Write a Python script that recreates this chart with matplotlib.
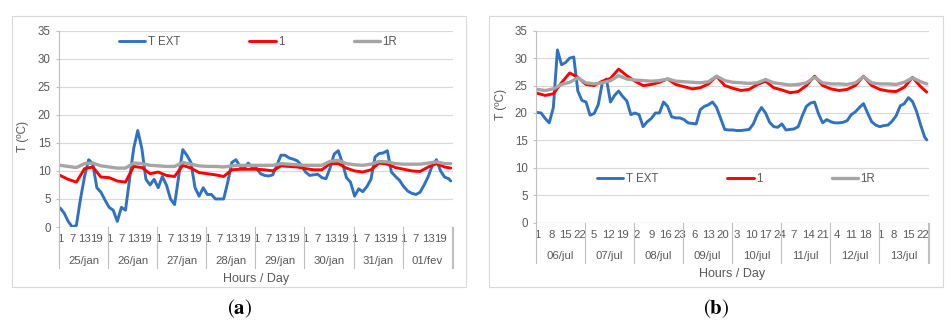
import numpy as np
import matplotlib.pyplot as plt
from matplotlib.patches import Rectangle
from matplotlib.transforms import blended_transform_factory

plt.rcParams["font.family"] = ["Liberation Sans", "DejaVu Sans"]
plt.rcParams["mathtext.fontset"] = "stix"

# hourly series, 8 days x 24 h; blue read every 2 h, the smooth ones every 4 h
hours_fine = np.r_[np.arange(0, 192, 2), 191]
hours_coarse = np.r_[np.arange(0, 192, 4), 191]

# (a) January week
jan_days = ["25/jan", "26/jan", "27/jan", "28/jan", "29/jan", "30/jan", "31/jan", "01/fev"]
jan_text = [
    3.4, 2.5, 1.0, 0.0, 0.3, 5.0, 9.0, 12.0, 11.3, 7.0, 6.2, 4.8,
    3.5, 3.0, 1.0, 3.5, 3.0, 8.5, 14.0, 17.2, 14.0, 8.5, 7.5, 8.5,
    7.0, 9.0, 7.5, 5.0, 4.0, 9.0, 13.8, 12.8, 11.5, 7.0, 5.5, 7.0,
    5.8, 5.8, 5.0, 5.0, 5.0, 8.0, 11.5, 12.0, 10.8, 10.5, 11.4, 10.6,
    10.5, 9.5, 9.2, 9.1, 9.3, 11.0, 12.8, 12.8, 12.3, 12.1, 11.8, 11.0,
    9.8, 9.2, 9.3, 9.4, 8.8, 8.6, 10.5, 13.0, 13.6, 11.5, 8.8, 8.0,
    5.5, 6.8, 6.3, 7.2, 8.5, 12.5, 13.1, 13.2, 13.6, 9.8, 9.0, 8.3,
    7.2, 6.4, 6.0, 5.8, 6.2, 7.5, 9.0, 11.0, 12.0, 10.0, 8.9, 8.6, 8.2,
]
jan_1 = [
    9.2, 8.5, 8.0, 10.4, 10.7, 8.9, 8.8, 8.2, 8.0, 10.8, 10.6, 9.5,
    9.8, 9.2, 9.0, 11.0, 10.5, 9.7, 9.5, 9.3, 9.0, 10.2, 10.3, 10.3,
    10.3, 10.2, 10.0, 10.9, 10.8, 10.7, 10.4, 10.2, 10.2, 11.3, 11.3, 10.5,
    10.0, 9.8, 10.2, 11.4, 11.2, 10.6, 10.3, 10.0, 9.9, 10.7, 11.3, 10.7, 10.5,
]
jan_1r = [
    11.0, 10.8, 10.6, 11.3, 11.4, 10.9, 10.7, 10.5, 10.5, 11.4, 11.3, 11.0,
    10.9, 10.8, 10.8, 11.5, 11.2, 10.9, 10.8, 10.8, 10.7, 10.9, 11.0, 11.0,
    11.0, 11.0, 11.0, 11.3, 11.2, 11.1, 11.0, 11.0, 11.0, 11.7, 11.9, 11.3,
    11.1, 11.0, 11.2, 11.7, 11.6, 11.3, 11.2, 11.2, 11.2, 11.4, 11.6, 11.3, 11.3,
]

# (b) July week
jul_days = ["06/jul", "07/jul", "08/jul", "09/jul", "10/jul", "11/jul", "12/jul", "13/jul"]
jul_text = [
    20.1, 20.0, 19.0, 18.2, 21.0, 31.5, 28.8, 29.2, 30.0, 30.2, 24.0, 22.3,
    22.0, 19.6, 19.9, 21.5, 25.5, 26.2, 22.0, 23.2, 24.0, 23.0, 22.2, 19.7,
    20.0, 19.7, 17.5, 18.4, 19.0, 20.0, 20.0, 22.0, 21.2, 19.3, 19.1, 19.1,
    18.8, 18.2, 18.1, 18.0, 20.6, 21.2, 21.5, 22.0, 21.0, 19.0, 17.0, 16.9,
    16.9, 16.8, 16.8, 16.9, 17.0, 18.0, 19.8, 21.0, 20.0, 18.3, 17.5, 17.4,
    18.0, 16.9, 17.0, 17.1, 17.5, 19.5, 21.2, 21.8, 22.0, 19.8, 18.2, 18.8,
    18.4, 18.2, 18.2, 18.3, 18.6, 19.7, 20.2, 21.0, 21.7, 20.0, 18.4, 17.8,
    17.5, 17.7, 17.8, 18.5, 19.5, 21.3, 21.7, 22.8, 22.1, 20.3, 17.8, 15.6, 15.1,
]
jul_1 = [
    23.6, 23.2, 23.5, 25.5, 27.3, 26.5, 25.2, 25.0, 25.8, 26.3, 28.0, 26.8,
    25.8, 25.0, 25.2, 25.6, 26.2, 25.2, 24.8, 24.4, 24.6, 25.3, 26.7, 25.0,
    24.5, 24.1, 24.3, 25.2, 25.8, 24.6, 24.2, 23.7, 23.9, 25.0, 26.7, 25.0,
    24.4, 24.1, 24.3, 25.0, 26.7, 25.0, 24.3, 24.0, 23.9, 24.7, 26.5, 24.8, 23.8,
]
jul_1r = [
    24.3, 24.1, 24.4, 25.2, 25.6, 26.4, 25.5, 25.3, 25.5, 25.9, 26.8, 26.2,
    26.0, 25.9, 25.8, 25.9, 26.2, 25.8, 25.7, 25.6, 25.5, 25.7, 26.7, 25.9,
    25.6, 25.5, 25.4, 25.5, 26.1, 25.5, 25.3, 25.1, 25.2, 25.5, 26.5, 25.5,
    25.3, 25.3, 25.2, 25.5, 26.6, 25.5, 25.3, 25.3, 25.2, 25.6, 26.4, 25.7, 25.3,
]

series_names = ["T EXT", "1", "1R"]
series_colors = ["#2f72c4", "#ff0000", "#a5a5a5"]
series_widths = [2.1, 2.1, 2.4]
text_gray = "#595959"

W, H = 952, 332
fig = plt.figure(figsize=(W / 100, H / 100), dpi=100)


def frac(x0, y0, x1, y1):
    # pixel box -> figure fraction [left, bottom, width, height]
    return [x0 / W, 1 - y1 / H, (x1 - x0) / W, (y1 - y0) / H]


def panel(box, axbox, text, r1, r1r, days, step, legend_xy, ylab_y, caption, cap_x):
    fig.patches.append(Rectangle(box[:2], box[2], box[3], transform=fig.transFigure,
                                 fill=False, edgecolor="#d9d9d9", linewidth=0.8))
    ax = fig.add_axes(axbox)
    for hrs, vals, name, c, lw in zip([hours_fine, hours_coarse, hours_coarse],
                                      [text, r1, r1r], series_names,
                                      series_colors, series_widths):
        ax.plot(hrs, vals, color=c, linewidth=lw, label=name,
                solid_capstyle="round", solid_joinstyle="round")

    n = 24 * len(days)
    ax.set_xlim(-0.5, n - 0.5 + 0.6)
    ax.set_ylim(0, 35)
    ax.set_yticks(np.arange(0, 36, 5))
    ax.grid(axis="y", color="#d9d9d9", linewidth=0.8)
    ax.set_axisbelow(True)
    for s in ["top", "right", "bottom"]:
        ax.spines[s].set_visible(False)
    ax.spines["left"].set_color("#bfbfbf")
    ax.spines["left"].set_linewidth(0.8)
    ax.axhline(0, color="#bfbfbf", linewidth=0.8, zorder=1)
    ax.tick_params(axis="y", length=2.5, width=0.8, color="#bfbfbf",
                   labelsize=8.3, labelcolor=text_gray, pad=3.5)

    pos = np.arange(0, n, step)
    ax.set_xticks(pos)
    ax.set_xticklabels([str(p % 24 + 1) for p in pos])
    ax.tick_params(axis="x", length=0, labelsize=8.2, labelcolor=text_gray, pad=5)

    tr = blended_transform_factory(ax.transData, ax.transAxes)
    edges = list(np.arange(0, n + 1, 24) - 0.5) + [n - 0.5 + 0.6]
    for e in edges:
        ax.plot([e, e], [0, -0.21], color="#bfbfbf", linewidth=0.8,
                transform=tr, clip_on=False)
    for d, lab in enumerate(days):
        ax.text(24 * d + 11.5, -0.175, lab, transform=tr, ha="center",
                va="center", fontsize=8.2, color=text_gray)
    ax.text(0.5, -0.265, "Hours / Day", transform=ax.transAxes, ha="center",
            va="center", fontsize=9, color=text_gray)

    ax.set_ylabel("T (ºC)", fontsize=8.6, color=text_gray)
    ax.yaxis.set_label_coords(-0.075, ylab_y)

    ax.legend(loc="center", bbox_to_anchor=legend_xy, ncol=3, frameon=False,
              fontsize=8.3, labelcolor=text_gray, handlelength=2.3,
              handletextpad=0.2, columnspacing=6.0)
    fig.text(cap_x / W, 1 - 309 / H, caption, ha="center", va="center", fontsize=15)
    return ax


panel(frac(12, 16, 466, 287), frac(59, 30.7, 453, 227), jan_text, jan_1, jan_1r,
      jan_days, 6, (0.505, 0.944), 0.46, r"$(\mathbf{a})$", 240)
panel(frac(489, 16, 943, 287), frac(536, 30.7, 929, 222.7), jul_text, jul_1, jul_1r,
      jul_days, 7, (0.509, 0.226), 0.618, r"$(\mathbf{b})$", 716)

fig.savefig("out.png", dpi=100)
